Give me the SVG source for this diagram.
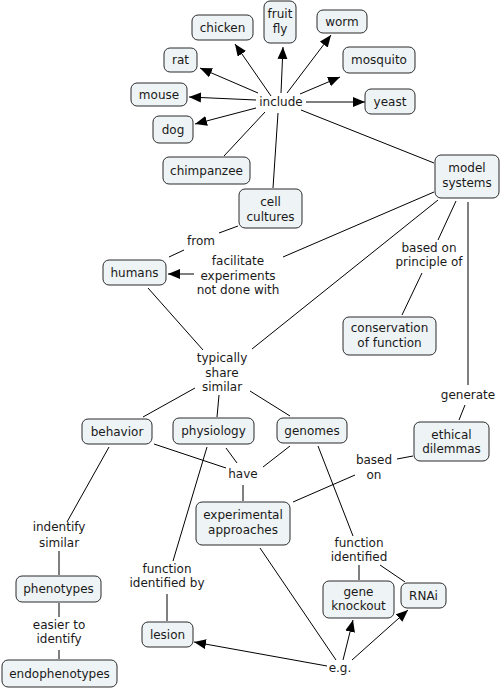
<svg xmlns="http://www.w3.org/2000/svg" width="502" height="690" viewBox="0 0 502 690">
<style>
.n rect{fill:#eef3f5;stroke:#2b2b2b;stroke-width:1}
text{font-family:"DejaVu Sans",Verdana,sans-serif;font-size:12px;fill:#1a1a1a;text-anchor:middle}
.c line{stroke:#000;stroke-width:1}
</style>
<defs>
<marker id="a" markerUnits="userSpaceOnUse" markerWidth="13" markerHeight="11" refX="12" refY="5" orient="auto">
<path d="M0,0 L12,5 L0,10 z" fill="#000"/>
</marker>
</defs>
<rect width="502" height="690" fill="#fff"/>
<g class="c">
<line x1="271" y1="96" x2="235" y2="44" marker-end="url(#a)"/>
<line x1="281" y1="93" x2="283" y2="47" marker-end="url(#a)"/>
<line x1="287" y1="93" x2="331" y2="35" marker-end="url(#a)"/>
<line x1="258" y1="93" x2="200" y2="68" marker-end="url(#a)"/>
<line x1="300" y1="94" x2="340" y2="77" marker-end="url(#a)"/>
<line x1="256" y1="100" x2="189" y2="97" marker-end="url(#a)"/>
<line x1="306" y1="102" x2="365" y2="102" marker-end="url(#a)"/>
<line x1="256" y1="108" x2="195" y2="124" marker-end="url(#a)"/>
<line x1="265" y1="112" x2="224" y2="156"/>
<line x1="278" y1="113" x2="273" y2="188"/>
<line x1="301" y1="110" x2="434" y2="163"/>
<line x1="434" y1="192" x2="283" y2="257"/>
<line x1="194" y1="274" x2="168" y2="274" marker-end="url(#a)"/>
<line x1="438" y1="200" x2="252" y2="349"/>
<line x1="456" y1="201" x2="438" y2="240"/>
<line x1="422" y1="273" x2="402" y2="315"/>
<line x1="468" y1="202" x2="468" y2="385"/>
<line x1="465" y1="405" x2="459" y2="420"/>
<line x1="413" y1="456" x2="397" y2="459"/>
<line x1="355" y1="475" x2="293" y2="502"/>
<line x1="238" y1="226" x2="219" y2="233"/>
<line x1="184" y1="250" x2="169" y2="257"/>
<line x1="148" y1="288" x2="203" y2="350"/>
<line x1="195" y1="388" x2="143" y2="417"/>
<line x1="219" y1="395" x2="217" y2="417"/>
<line x1="250" y1="391" x2="290" y2="416"/>
<line x1="154" y1="444" x2="226" y2="468"/>
<line x1="226" y1="448" x2="237" y2="463"/>
<line x1="290" y1="446" x2="263" y2="467"/>
<line x1="243" y1="485" x2="243" y2="501"/>
<line x1="109" y1="447" x2="67" y2="522"/>
<line x1="59" y1="551" x2="59" y2="575"/>
<line x1="59" y1="603" x2="59" y2="617"/>
<line x1="59" y1="650" x2="59" y2="659"/>
<line x1="207" y1="447" x2="173" y2="561"/>
<line x1="167" y1="594" x2="167" y2="621"/>
<line x1="318" y1="446" x2="353" y2="536"/>
<line x1="359" y1="565" x2="359" y2="580"/>
<line x1="380" y1="565" x2="405" y2="582"/>
<line x1="260" y1="548" x2="336" y2="660"/>
<line x1="327" y1="666" x2="194" y2="642" marker-end="url(#a)"/>
<line x1="343" y1="660" x2="353" y2="620" marker-end="url(#a)"/>
<line x1="352" y1="660" x2="408" y2="610" marker-end="url(#a)"/>
</g>
<g id="chicken" class="n"><rect x="192" y="15" width="61" height="25" rx="6"/><text x="222.5" y="32">chicken</text></g>
<g id="fruitfly" class="n"><rect x="264" y="1" width="32" height="42" rx="6"/><text x="280" y="18">fruit</text><text x="280" y="33">fly</text></g>
<g id="worm" class="n"><rect x="317" y="10" width="50" height="23" rx="6"/><text x="342" y="26">worm</text></g>
<g id="rat" class="n"><rect x="164" y="48" width="33" height="24" rx="6"/><text x="180.5" y="64">rat</text></g>
<g id="mosquito" class="n"><rect x="343" y="47" width="72" height="26" rx="6"/><text x="379" y="64">mosquito</text></g>
<g id="mouse" class="n"><rect x="131" y="83" width="56" height="23" rx="6"/><text x="159" y="99">mouse</text></g>
<g id="yeast" class="n"><rect x="365" y="89" width="50" height="25" rx="6"/><text x="390" y="106">yeast</text></g>
<g id="dog" class="n"><rect x="153" y="116" width="40" height="27" rx="6"/><text x="173" y="134">dog</text></g>
<g id="chimpanzee" class="n"><rect x="163" y="157" width="87" height="27" rx="6"/><text x="206.5" y="175">chimpanzee</text></g>
<g id="cellcultures" class="n"><rect x="239" y="189" width="63" height="39" rx="6"/><text x="270.5" y="206">cell</text><text x="270.5" y="221">cultures</text></g>
<g id="modelsystems" class="n"><rect x="435" y="155" width="64" height="43" rx="6"/><text x="467" y="172">model</text><text x="467" y="187">systems</text></g>
<g id="humans" class="n"><rect x="103" y="260" width="63" height="25" rx="6"/><text x="134.5" y="277">humans</text></g>
<g id="conservation" class="n"><rect x="343" y="317" width="93" height="38" rx="6"/><text x="389.5" y="332">conservation</text><text x="389.5" y="347">of function</text></g>
<g id="behavior" class="n"><rect x="82" y="419" width="70" height="25" rx="6"/><text x="117" y="436">behavior</text></g>
<g id="physiology" class="n"><rect x="173" y="418" width="81" height="26" rx="6"/><text x="213.5" y="435">physiology</text></g>
<g id="genomes" class="n"><rect x="277" y="418" width="70" height="25" rx="6"/><text x="312" y="435">genomes</text></g>
<g id="ethical" class="n"><rect x="414" y="422" width="75" height="39" rx="6"/><text x="451.5" y="439">ethical</text><text x="451.5" y="453">dilemmas</text></g>
<g id="experimental" class="n"><rect x="196" y="502" width="94" height="43" rx="6"/><text x="243" y="519">experimental</text><text x="243" y="534">approaches</text></g>
<g id="phenotypes" class="n"><rect x="16" y="576" width="85" height="26" rx="6"/><text x="58.5" y="593">phenotypes</text></g>
<g id="endophenotypes" class="n"><rect x="2" y="660" width="115" height="27" rx="6"/><text x="59.5" y="678">endophenotypes</text></g>
<g id="lesion" class="n"><rect x="142" y="622" width="51" height="25" rx="6"/><text x="167.5" y="639">lesion</text></g>
<g id="geneknockout" class="n"><rect x="323" y="581" width="71" height="37" rx="6"/><text x="358.5" y="596">gene</text><text x="358.5" y="610">knockout</text></g>
<g id="rnai" class="n"><rect x="401" y="583" width="45" height="25" rx="6"/><text x="423.5" y="600">RNAi</text></g>
<g id="labels">
<text x="281" y="106">include</text>
<text x="201" y="245">from</text>
<text x="238" y="265">facilitate</text><text x="238" y="280">experiments</text><text x="238" y="294">not done with</text>
<text x="429" y="252">based on</text><text x="429" y="266">principle of</text>
<text x="222" y="362">typically</text><text x="222" y="377">share</text><text x="222" y="391">similar</text>
<text x="468" y="399">generate</text>
<text x="374" y="464">based</text><text x="374" y="479">on</text>
<text x="243" y="478">have</text>
<text x="59" y="531">indentify</text><text x="59" y="547">similar</text>
<text x="59" y="629">easier to</text><text x="59" y="643">identify</text>
<text x="167" y="573">function</text><text x="167" y="587">identified by</text>
<text x="359" y="547">function</text><text x="359" y="561">identified</text>
<text x="340" y="672">e.g.</text>
</g>
</svg>
